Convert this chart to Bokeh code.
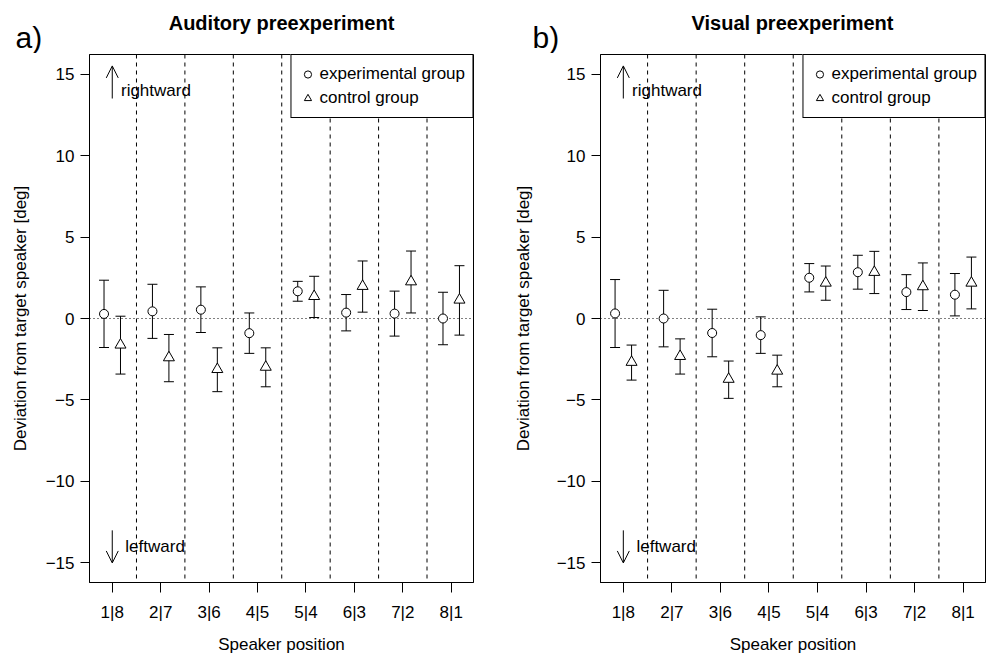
from bokeh.plotting import figure
from bokeh.models import (Range1d, FixedTicker, Span, Whisker, TeeHead, ColumnDataSource,
                          Legend, LegendItem, Arrow, OpenHead, Label)
from bokeh.layouts import row, column
from bokeh.embed import file_html
from bokeh.resources import INLINE

FONT = "Liberation Sans"

# ---- data -------------------------------------------------------------
speaker_labels = ["1|8", "2|7", "3|6", "4|5", "5|4", "6|3", "7|2", "8|1"]
speaker_pos = [1, 2, 3, 4, 5, 6, 7, 8]
y_ticks = [-15, -10, -5, 0, 5, 10, 15]
y_tick_labels = ["\u221215", "\u221210", "\u22125", "0", "5", "10", "15"]

# Auditory preexperiment
aud_exp_mean = [0.28, 0.44, 0.54, -0.90, 1.67, 0.36, 0.30, 0.00]
aud_exp_upper = [2.35, 2.10, 1.94, 0.34, 2.28, 1.47, 1.68, 1.61]
aud_exp_lower = [-1.78, -1.22, -0.86, -2.14, 1.06, -0.76, -1.08, -1.61]
aud_ctl_mean = [-1.62, -2.40, -3.12, -2.98, 1.36, 1.98, 2.26, 1.14]
aud_ctl_upper = [0.14, -0.98, -1.80, -1.80, 2.59, 3.53, 4.14, 3.24]
aud_ctl_lower = [-3.41, -3.88, -4.49, -4.19, 0.06, 0.39, 0.34, -1.02]

# Visual preexperiment
vis_exp_mean = [0.31, 0.00, -0.89, -1.02, 2.50, 2.84, 1.62, 1.46]
vis_exp_upper = [2.39, 1.73, 0.57, 0.10, 3.37, 3.88, 2.69, 2.76]
vis_exp_lower = [-1.78, -1.74, -2.35, -2.14, 1.63, 1.80, 0.55, 0.16]
vis_ctl_mean = [-2.68, -2.32, -3.72, -3.22, 2.18, 2.84, 1.96, 2.18]
vis_ctl_upper = [-1.63, -1.25, -2.61, -2.25, 3.22, 4.12, 3.41, 3.77]
vis_ctl_lower = [-3.78, -3.41, -4.90, -4.19, 1.12, 1.53, 0.49, 0.59]

titles = ["Auditory preexperiment", "Visual preexperiment"]
tags = ["a)", "b)"]

DODGE = 0.17
HEADER_H = 53


def make_panel(exp_m, exp_hi, exp_lo, ctl_m, ctl_hi, ctl_lo,
               width, border_left, border_right, ylab_standoff):
    p = figure(width=width, height=657 - HEADER_H, title=None,
               x_range=Range1d(0.53, 8.46), y_range=Range1d(-16.2, 16.2),
               output_backend="svg", toolbar_location=None,
               min_border_left=border_left, min_border_right=border_right,
               min_border_top=1, min_border_bottom=75)
    p.background_fill_color = "white"
    p.border_fill_color = "white"
    p.outline_line_color = "black"
    p.outline_line_alpha = 1
    p.outline_line_width = 1
    p.xgrid.visible = False
    p.ygrid.visible = False

    for ax in (p.xaxis[0], p.yaxis[0]):
        ax.axis_line_color = "black"
        ax.major_tick_line_color = "black"
        ax.minor_tick_line_color = None
        ax.major_tick_in = 0
        ax.major_label_text_font = FONT
        ax.major_label_text_font_size = "17px"
        ax.major_label_text_color = "black"
        ax.axis_label_text_font = FONT
        ax.axis_label_text_font_size = "17px"
        ax.axis_label_text_font_style = "normal"
        ax.axis_label_text_color = "black"

    p.xaxis.ticker = FixedTicker(ticks=speaker_pos)
    p.xaxis.major_label_overrides = dict(zip(speaker_pos, speaker_labels))
    p.xaxis.major_tick_out = 10
    p.xaxis.major_label_standoff = 10
    p.xaxis.axis_label = "Speaker position"
    p.xaxis.axis_label_standoff = 10

    p.yaxis.ticker = FixedTicker(ticks=y_ticks)
    p.yaxis.major_label_overrides = dict(zip(y_ticks, y_tick_labels))
    p.yaxis.major_tick_out = 9
    p.yaxis.major_label_standoff = 6
    p.yaxis.axis_label = "Deviation from target speaker [deg]"
    p.yaxis.axis_label_standoff = ylab_standoff

    # separators between speaker positions and zero line
    for a, b in zip(speaker_pos[:-1], speaker_pos[1:]):
        p.add_layout(Span(location=(a + b) / 2, dimension="height", line_color="black",
                          line_width=1, line_dash="4 4", level="underlay"))
    p.add_layout(Span(location=0, dimension="width", line_color="black",
                      line_width=1, line_dash="1 3", level="underlay"))

    src_e = ColumnDataSource(dict(x=[v - DODGE for v in speaker_pos], m=exp_m, hi=exp_hi, lo=exp_lo))
    src_c = ColumnDataSource(dict(x=[v + DODGE for v in speaker_pos], m=ctl_m, hi=ctl_hi, lo=ctl_lo))

    for src in (src_e, src_c):
        p.add_layout(Whisker(source=src, base="x", upper="hi", lower="lo", dimension="height",
                             line_color="black", line_width=1, level="underlay",
                             upper_head=TeeHead(size=10, line_color="black", line_width=1),
                             lower_head=TeeHead(size=10, line_color="black", line_width=1)))

    r_e = p.scatter("x", "m", source=src_e, marker="circle", size=9,
                    line_color="black", line_width=1, fill_color="white")
    r_c = p.scatter("x", "m", source=src_c, marker="triangle", size=11,
                    line_color="black", line_width=1, fill_color="white")

    legend = Legend(items=[LegendItem(label="experimental group", renderers=[r_e]),
                           LegendItem(label="control group", renderers=[r_c])],
                    location="top_right", margin=0, padding=7, spacing=0,
                    glyph_width=18, glyph_height=24, label_height=24, label_standoff=3,
                    border_line_color="black", border_line_width=1, border_line_alpha=1,
                    background_fill_color="white", background_fill_alpha=1,
                    label_text_font=FONT, label_text_font_size="17px",
                    label_text_color="black")
    p.add_layout(legend)

    # direction annotations
    x0 = speaker_pos[0]
    p.add_layout(Arrow(x_start=x0, y_start=13.5, x_end=x0, y_end=15.5,
                       line_color="black", line_width=1,
                       end=OpenHead(size=12, line_color="black", line_width=1)))
    p.add_layout(Arrow(x_start=x0, y_start=-13.0, x_end=x0, y_end=-15.0,
                       line_color="black", line_width=1,
                       end=OpenHead(size=12, line_color="black", line_width=1)))
    p.add_layout(Label(x=x0 + 0.18, y=14.0, text="rightward", text_baseline="middle",
                       text_font=FONT, text_font_size="17px", text_color="black"))
    p.add_layout(Label(x=x0 + 0.27, y=-14.0, text="leftward", text_baseline="middle",
                       text_font=FONT, text_font_size="17px", text_color="black"))
    return p


# header strip holding the panel tags and panel titles
header = figure(width=987, height=HEADER_H, title=None,
                x_range=Range1d(0, 987), y_range=Range1d(0, HEADER_H),
                output_backend="svg", toolbar_location=None,
                x_axis_location=None, y_axis_location=None, min_border=0)
header.outline_line_color = None
header.xgrid.visible = False
header.ygrid.visible = False
header.background_fill_color = "white"
header.border_fill_color = "white"
for tag, tx in zip(tags, [15, 532]):
    header.add_layout(Label(x=tx, y=HEADER_H - 37, x_units="screen", y_units="screen",
                            text=tag, text_baseline="middle", text_align="left",
                            text_font=FONT, text_font_size="30px", text_color="black"))
for ttl, cx in zip(titles, [281, 792]):
    header.add_layout(Label(x=cx, y=HEADER_H - 22, x_units="screen", y_units="screen",
                            text=ttl, text_baseline="middle", text_align="center",
                            text_font=FONT, text_font_size="20px", text_font_style="bold",
                            text_color="black"))

p1 = make_panel(aud_exp_mean, aud_exp_upper, aud_exp_lower,
                aud_ctl_mean, aud_ctl_upper, aud_ctl_lower,
                width=490, border_left=89, border_right=17, ylab_standoff=13)
p2 = make_panel(vis_exp_mean, vis_exp_upper, vis_exp_lower,
                vis_ctl_mean, vis_ctl_upper, vis_ctl_lower,
                width=497, border_left=110, border_right=2, ylab_standoff=21)

layout = column(header, row(p1, p2))
open("out.html", "w").write(file_html(layout, INLINE))
